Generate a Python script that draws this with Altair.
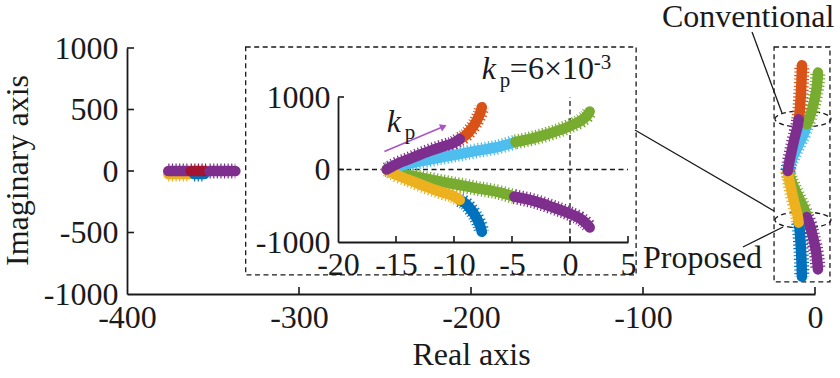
import altair as alt
import pandas as pd

FONT = "Liberation Serif"
INK = "#1a1a1a"
FS = 32

# ---------------- tick values ----------------
main_x_ticks = [-400, -300, -200, -100, 0]
main_y_ticks = [-1000, -500, 0, 500, 1000]
inset_x_ticks = [-20, -15, -10, -5, 0, 5]
inset_y_ticks = [-1000, 0, 1000]

# ---------------- root-locus branches (real, imaginary) ----------------
purple_up_re = [-15.8, -15.0, -14.0, -13.0, -12.0, -11.0, -10.0, -9.5]
purple_up_im = [0, 70, 135, 200, 260, 315, 370, 420]
orange_re = [-9.5, -9.0, -8.6, -8.2, -7.9, -7.7, -7.6]
orange_im = [420, 470, 540, 630, 720, 800, 860]
lightblue_re = [-15.8, -14.0, -12.0, -10.0, -8.0, -6.0, -4.7]
lightblue_im = [0, 75, 140, 200, 260, 320, 380]
green_up_re = [-4.7, -3.0, -1.5, 0.0, 1.0, 1.5, 1.7]
green_up_im = [380, 440, 510, 600, 680, 750, 800]
yellow_re = [-15.8, -15.0, -14.0, -13.0, -12.0, -11.0, -10.0, -9.5]
yellow_im = [0, -70, -135, -200, -260, -315, -370, -420]
blue_re = [-9.5, -9.0, -8.6, -8.2, -7.9, -7.7, -7.6]
blue_im = [-420, -470, -540, -630, -720, -800, -860]
green_low_re = [-15.8, -14.0, -12.0, -10.0, -8.0, -6.0, -4.8]
green_low_im = [0, -75, -140, -200, -260, -320, -375]
purple_low_re = [-4.8, -3.0, -1.5, 0.0, 1.0, 1.5, 1.7]
purple_low_im = [-375, -440, -520, -610, -690, -760, -800]

# ---------------- far-left cluster on the real axis ----------------
cl_yellow_re = [-376, -372, -368, -364]
cl_yellow_im = [-25, -25, -25, -25]
cl_blue_re = [-361, -358, -355]
cl_blue_im = [-25, -25, -25]
cl_purple_a_re = [-376, -373, -370, -367, -364]
cl_purple_a_im = [0, 0, 0, 0, 0]
cl_red_re = [-363, -360, -357, -354]
cl_red_im = [0, 0, 0, 0]
cl_purple_b_re = [-352, -349, -346, -343, -340, -337]
cl_purple_b_im = [0, 0, 0, 0, 0, 0]

# ---------------- annotation geometry (data coordinates of main axes) ----------------
inset_box = {"x1": -331, "x2": -104, "y1": 1008, "y2": -845}
zoom_box = {"x1": -23.8, "x2": 8.7, "y1": 1008, "y2": -902}
ellipse_re = [-7, -7]
ellipse_im = [423, -398]
leader_x1 = [-36.6, -104.7, -41.9]
leader_y1 = [1130, 333, -618]
leader_x2 = [-19.2, -23.8, -18.6]
leader_y2 = [472, -325, -455]

W, H = 688, 246
IX_RANGE = [211, 501]
IY_RANGE = [194, 49]


def seg_frame(specs):
    rows = []
    for name, re_, im_, col in specs:
        for i, (a, b) in enumerate(zip(re_, im_)):
            rows.append({"seg": name, "i": i, "re": a, "im": b, "col": col})
    return pd.DataFrame(rows)


locus = seg_frame([
    ("01", green_low_re, green_low_im, "#77AC30"),
    ("02", purple_low_re, purple_low_im, "#7E2F8E"),
    ("03", lightblue_re, lightblue_im, "#4DBEEE"),
    ("04", green_up_re, green_up_im, "#77AC30"),
    ("05", blue_re, blue_im, "#0072BD"),
    ("06", orange_re, orange_im, "#D95319"),
    ("07", yellow_re, yellow_im, "#EDB120"),
    ("08", purple_up_re, purple_up_im, "#7E2F8E"),
])
cluster = seg_frame([
    ("01", cl_yellow_re, cl_yellow_im, "#EDB120"),
    ("02", cl_blue_re, cl_blue_im, "#0072BD"),
    ("03", cl_purple_a_re, cl_purple_a_im, "#7E2F8E"),
    ("04", cl_red_re, cl_red_im, "#A2142F"),
    ("05", cl_purple_b_re, cl_purple_b_im, "#7E2F8E"),
])

main_x = alt.Scale(domain=[-400, 0], range=[0, W], nice=False, zero=False)
main_y = alt.Scale(domain=[-1000, 1000], range=[H, 0], nice=False, zero=False)
ins_x = alt.Scale(domain=[-20, 5], range=IX_RANGE, nice=False, zero=False)
ins_y = alt.Scale(domain=[-1000, 1000], range=IY_RANGE, nice=False, zero=False)

common_axis = dict(
    labelFont=FONT, labelFontSize=FS, labelColor=INK, format="d",
    ticks=False, grid=False, domainColor=INK, domainWidth=1.8,
    labelFlush=False, labelOverlap=False,
    titleFont=FONT, titleFontSize=FS, titleColor=INK, titleFontWeight="normal",
    labelExpr="replace(datum.label, '\u2212', '-')",
)
main_x_axis = alt.Axis(orient="bottom", values=main_x_ticks, labelPadding=8,
                       title="Real axis", titleX=344, titleY=70, titleBaseline="alphabetic",
                       titleAlign="center", **common_axis)
main_y_axis = alt.Axis(orient="left", values=main_y_ticks, labelPadding=9,
                       title="Imaginary axis", titleAngle=270, titleX=-100, titleY=122,
                       titleBaseline="alphabetic", titleAlign="center", **common_axis)
ins_x_axis = alt.Axis(orient="bottom", offset=-(H - IY_RANGE[0]), values=inset_x_ticks,
                      labelPadding=7, title="", **common_axis)
ins_y_axis = alt.Axis(orient="left", offset=-IX_RANGE[0], values=inset_y_ticks,
                      labelPadding=8, title="", **common_axis)


def bands(data, xs, ys):
    enc = dict(
        x=alt.X("re:Q", scale=xs, axis=None),
        y=alt.Y("im:Q", scale=ys, axis=None),
        color=alt.Color("col:N", scale=None),
        detail="seg:N",
        order="i:Q",
    )
    teeth = alt.Chart(data).mark_line(strokeWidth=15, strokeDash=[1.2, 2.4], strokeCap="butt",
                                      interpolate="monotone").encode(**enc)
    solid = alt.Chart(data).mark_line(strokeWidth=10.5, strokeCap="round", strokeJoin="round",
                                      interpolate="monotone").encode(**enc)
    return [teeth, solid]


dash = dict(stroke=INK, strokeWidth=1.3, strokeDash=[5, 3.5])

# ---------------- axis-bearing tick layers ----------------
mx_ticks = alt.Chart(pd.DataFrame({"v": main_x_ticks[1:]})).mark_rule(
    color=INK, strokeWidth=1.6).encode(
    x=alt.X("v:Q", scale=main_x, axis=main_x_axis), y=alt.value(H), y2=alt.value(H - 7))
my_ticks = alt.Chart(pd.DataFrame({"v": main_y_ticks[1:]})).mark_rule(
    color=INK, strokeWidth=1.6).encode(
    y=alt.Y("v:Q", scale=main_y, axis=main_y_axis), x=alt.value(0), x2=alt.value(7))
ix_ticks = alt.Chart(pd.DataFrame({"v": inset_x_ticks[1:]})).mark_rule(
    color=INK, strokeWidth=1.6).encode(
    x=alt.X("v:Q", scale=ins_x, axis=ins_x_axis), y=alt.value(IY_RANGE[0]),
    y2=alt.value(IY_RANGE[0] - 6))
iy_ticks = alt.Chart(pd.DataFrame({"v": inset_y_ticks[1:]})).mark_rule(
    color=INK, strokeWidth=1.6).encode(
    y=alt.Y("v:Q", scale=ins_y, axis=ins_y_axis), x=alt.value(IX_RANGE[0]),
    x2=alt.value(IX_RANGE[0] + 6))

# ---------------- main-axes annotations ----------------
box_df = pd.DataFrame([inset_box, zoom_box])
boxes = alt.Chart(box_df).mark_rect(filled=False, fill=None, **dash).encode(
    x=alt.X("x1:Q", scale=main_x, axis=None), x2="x2:Q",
    y=alt.Y("y1:Q", scale=main_y, axis=None), y2="y2:Q")

ell_path = ("M-1,0C-1,-0.158,-0.552,-0.286,0,-0.286C0.552,-0.286,1,-0.158,1,0"
            "C1,0.158,0.552,0.286,0,0.286C-0.552,0.286,-1,0.158,-1,0Z")
ellipses = alt.Chart(pd.DataFrame({"re": ellipse_re, "im": ellipse_im})).mark_point(
    shape=ell_path, size=3136, filled=False, opacity=1, **dash).encode(
    x=alt.X("re:Q", scale=main_x, axis=None), y=alt.Y("im:Q", scale=main_y, axis=None))

leaders = alt.Chart(pd.DataFrame({"x1": leader_x1, "y1": leader_y1,
                                  "x2": leader_x2, "y2": leader_y2})).mark_rule(
    color=INK, strokeWidth=1.3).encode(
    x=alt.X("x1:Q", scale=main_x, axis=None), x2="x2:Q",
    y=alt.Y("y1:Q", scale=main_y, axis=None), y2="y2:Q")

labels_df = pd.DataFrame({"re": [-89, -100], "im": [1171, -789],
                          "t": ["Conventional", "Proposed"]})
labels = alt.Chart(labels_df).mark_text(font=FONT, fontSize=FS, color=INK, align="left",
                                        baseline="alphabetic").encode(
    x=alt.X("re:Q", scale=main_x, axis=None), y=alt.Y("im:Q", scale=main_y, axis=None),
    text="t:N")

# ---------------- inset annotations ----------------
zero_h = alt.Chart(pd.DataFrame({"a": [-20], "b": [5], "y": [0]})).mark_rule(**dash).encode(
    x=alt.X("a:Q", scale=ins_x, axis=None), x2="b:Q", y=alt.Y("y:Q", scale=ins_y, axis=None))
zero_v = alt.Chart(pd.DataFrame({"x": [0], "a": [-1000], "b": [1000]})).mark_rule(**dash).encode(
    x=alt.X("x:Q", scale=ins_x, axis=None), y=alt.Y("a:Q", scale=ins_y, axis=None), y2="b:Q")

ARROW = "#A855C8"
arrow_df = pd.DataFrame({"x1": [-16.0], "y1": [248], "x2": [-10.9], "y2": [593]})
arrow_line = alt.Chart(arrow_df).mark_rule(color=ARROW, strokeWidth=1.6).encode(
    x=alt.X("x1:Q", scale=ins_x, axis=None), x2="x2:Q",
    y=alt.Y("y1:Q", scale=ins_y, axis=None), y2="y2:Q")
arrow_head = alt.Chart(arrow_df).mark_point(shape="triangle-right", size=60, filled=True,
                                            color=ARROW, opacity=1, angle=337).encode(
    x=alt.X("x2:Q", scale=ins_x, axis=None), y=alt.Y("y2:Q", scale=ins_y, axis=None))

kp_df = pd.DataFrame({
    "re": [-15.8, -15.8, -7.6, -7.6, -7.6, -7.6],
    "im": [524, 524, 1255, 1255, 1255, 1255],
    "t": ["k", "p", "k", "p", "=6×10", "-3"],
    "size": [FS, 21, FS, 21, FS, 21],
    "style": ["italic", "normal", "italic", "normal", "normal", "normal"],
    "dx": [0, 18, 0, 18, 28, 112],
    "dy": [0, 7, 0, 8, 0, -10],
})
kp_layers = []
for _, r in kp_df.iterrows():
    kp_layers.append(
        alt.Chart(pd.DataFrame([r])).mark_text(
            font=FONT, fontSize=int(r["size"]), fontStyle=r["style"], color=INK,
            align="left", baseline="alphabetic", dx=int(r["dx"]), dy=int(r["dy"])
        ).encode(x=alt.X("re:Q", scale=ins_x, axis=None),
                 y=alt.Y("im:Q", scale=ins_y, axis=None), text="t:N")
    )

chart = alt.layer(
    mx_ticks, my_ticks, ix_ticks, iy_ticks,
    boxes, ellipses, leaders, labels,
    *bands(cluster, main_x, main_y), *bands(locus, main_x, main_y),
    zero_h, zero_v, *bands(locus, ins_x, ins_y),
    arrow_line, arrow_head, *kp_layers,
).resolve_scale(x="independent", y="independent").properties(
    width=W, height=H,
    autosize=alt.AutoSizeParams(type="none"),
    padding={"left": 127, "top": 48, "right": 840 - 127 - W, "bottom": 378 - 48 - H},
    background="white",
).configure_view(stroke=None)

chart.save("out.html", embed_options={"renderer": "svg", "actions": False})
